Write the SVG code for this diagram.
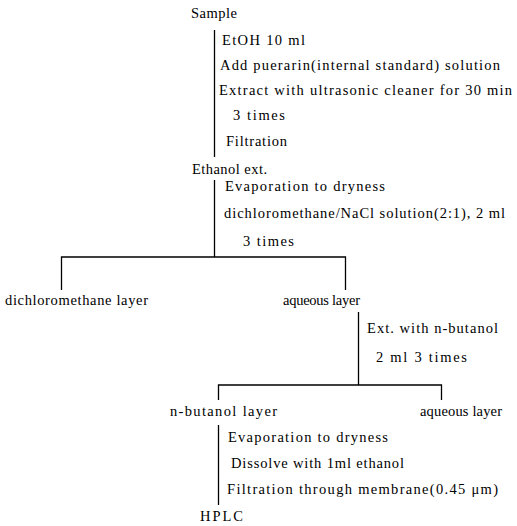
<svg xmlns="http://www.w3.org/2000/svg" width="517" height="526" viewBox="0 0 517 526">
<style>
text{font-family:"Liberation Serif","DejaVu Serif",serif;font-size:14.5px;fill:#000}
.c{stroke:#000;stroke-width:1.3;fill:none}
</style>
<rect width="517" height="526" fill="#fff"/>
<g id="connectors">
<path class="c" d="M214.5,30V157"/>
<path class="c" d="M214.5,180V257"/>
<path class="c" d="M61.5,290V257H345.5V290"/>
<path class="c" d="M358.5,312V385"/>
<path class="c" d="M218.5,400V385H441.5V400"/>
<path class="c" d="M218.5,425V505"/>
</g>
<g id="sample"><text x="191" y="18" textLength="46" lengthAdjust="spacing">Sample</text></g>
<g id="step1">
<text x="222" y="45" textLength="83" lengthAdjust="spacing">EtOH 10 ml</text>
<text x="220" y="70" textLength="280" lengthAdjust="spacing">Add puerarin(internal standard) solution</text>
<text x="219" y="95" textLength="293" lengthAdjust="spacing">Extract with ultrasonic cleaner for 30 min</text>
<text x="233" y="120" textLength="52" lengthAdjust="spacing">3 times</text>
<text x="226" y="146" textLength="61" lengthAdjust="spacing">Filtration</text>
</g>
<g id="ethanol-ext"><text x="192" y="174" textLength="75" lengthAdjust="spacing">Ethanol ext.</text></g>
<g id="step2">
<text x="225" y="191" textLength="160" lengthAdjust="spacing">Evaporation to dryness</text>
<text x="224" y="218" textLength="281" lengthAdjust="spacing">dichloromethane/NaCl solution(2:1), 2 ml</text>
<text x="243" y="246" textLength="51" lengthAdjust="spacing">3 times</text>
</g>
<g id="dcm-layer"><text x="5" y="305" textLength="143" lengthAdjust="spacing">dichloromethane layer</text></g>
<g id="aqueous-layer-1"><text x="283" y="305" textLength="77" lengthAdjust="spacing">aqueous layer</text></g>
<g id="step3">
<text x="367" y="333" textLength="131" lengthAdjust="spacing">Ext. with n-butanol</text>
<text x="376" y="362" textLength="91" lengthAdjust="spacing">2 ml 3 times</text>
</g>
<g id="butanol-layer"><text x="170" y="416" textLength="107" lengthAdjust="spacing">n-butanol layer</text></g>
<g id="aqueous-layer-2"><text x="420" y="416" textLength="82" lengthAdjust="spacing">aqueous layer</text></g>
<g id="step4">
<text x="228" y="442" textLength="160" lengthAdjust="spacing">Evaporation to dryness</text>
<text x="231" y="468" textLength="173" lengthAdjust="spacing">Dissolve with 1ml ethanol</text>
<text x="227" y="494" textLength="271" lengthAdjust="spacing">Filtration through membrane(0.45 μm)</text>
</g>
<g id="hplc"><text x="200" y="521" textLength="43" lengthAdjust="spacing">HPLC</text></g>
</svg>
